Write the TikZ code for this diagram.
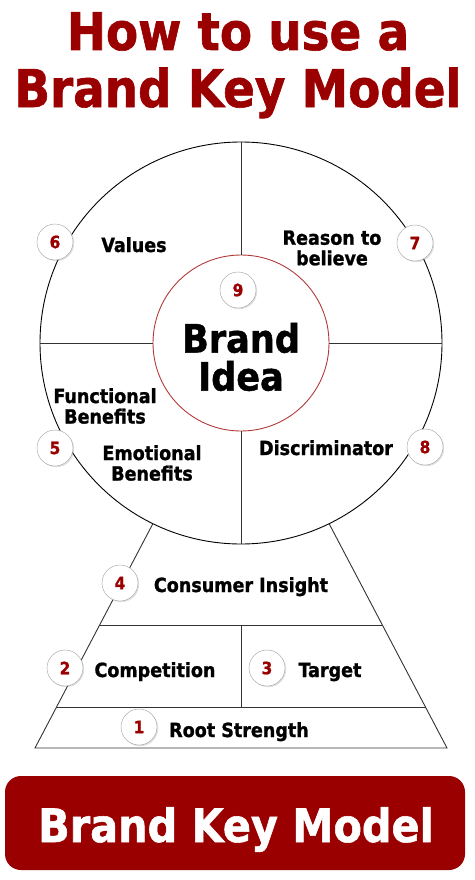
\documentclass[tikz,border=0pt]{standalone}
\usepackage{fontspec}
\setmainfont{DejaVu Sans Condensed}[BoldFeatures={FakeBold=1.2}]
\usetikzlibrary{calc, shadows}
\definecolor{brandred}{HTML}{9B0000}
\definecolor{ringred}{HTML}{B23A3A}

\begin{document}
\begin{tikzpicture}[
		x=1pt, y=-1pt,
		every node/.style={inner sep=0pt, font=\bfseries},
		headline/.style={anchor=base, text=brandred, font=\fontsize{52}{52}\selectfont\bfseries},
		field/.style={align=center, font=\fontsize{19.5}{20.5}\selectfont\bfseries},
		badge/.style={circle, draw=gray!75, fill=white, minimum size=36pt, text=brandred,
			font=\fontsize{17}{17}\selectfont\bfseries,
			drop shadow={opacity=0.25, shadow xshift=1.2pt, shadow yshift=-1.2pt}},
		divider/.style={draw=black!80, line width=0.9pt}
		]
	
		\useasboundingbox (0,0) rectangle (474,880);
	
		% Heading
		\node[headline] (headone) at (238,50) {How to use a};
		\node[headline] (headtwo) at (238,107) {Brand Key Model};
	
		% Wheel
		\node[circle, draw, line width=0.9pt, minimum size=402pt] (wheel) at (241,343) {};
		\node[circle, draw=ringred, line width=0.9pt, minimum size=176pt] (ideanode) at (wheel.center) {};
		\node[align=center, font=\fontsize{39}{38}\selectfont\bfseries] (ideatext) at (241,357) {Brand\\Idea};
		\draw[divider] (wheel.north) -- (ideanode.north);
		\draw[divider] (wheel.south) -- (ideanode.south);
		\draw[divider] (wheel.west) -- (ideanode.west);
		\draw[divider] (wheel.east) -- (ideanode.east);
	
		% Pyramid
		\coordinate (baseleft) at (35,748);
		\coordinate (baseright) at (447,748);
		\coordinate (tierAl) at ($(wheel.-116)!0.451!(baseleft)$);
		\coordinate (tierAr) at ($(wheel.-64)!0.451!(baseright)$);
		\coordinate (tierBl) at ($(wheel.-116)!0.821!(baseleft)$);
		\coordinate (tierBr) at ($(wheel.-64)!0.821!(baseright)$);
		\draw[divider] (wheel.-116) -- (baseleft) -- (baseright) -- (wheel.-64);
		\draw[divider] (tierAl) -- (tierAr);
		\draw[divider] (tierBl) -- (tierBr);
		\draw[divider] ($(tierAl)!0.5!(tierAr)$) -- ($(tierBl)!0.5!(tierBr)$);
	
		% Texts
		\node[field, anchor=base] (values) at (134,252) {Values};
		\node[field] (reason) at (332,248) {Reason to\\believe};
		\node[field] (functional) at (105,406) {Functional\\Benefits};
		\node[field] (emotional) at (152,463) {Emotional\\Benefits};
		\node[field, anchor=base] (discriminator) at (326,455) {Discriminator};
		\node[field, anchor=base] (insight) at (241,592) {Consumer Insight};
		\node[field, anchor=base] (competition) at (155,677) {Competition};
		\node[field, anchor=base] (target) at (330,677) {Target};
		\node[field, anchor=base] (root) at (239,737) {Root Strength};
	
		% Numbers
		\node[badge] (one) at (139,727) {1};
		\node[badge] (two) at (65,668) {2};
		\node[badge] (three) at (267,668) {3};
		\node[badge] (four) at (120,583) {4};
		\node[badge] (five) at (55,448) {5};
		\node[badge] (six) at (55,242) {6};
		\node[badge] (seven) at (415,243) {7};
		\node[badge] (eight) at (425,447) {8};
		\node[badge] (nine) at (238,290) {9};
	
		% Banner
		\fill[brandred, rounded corners=16pt] (5,776) rectangle (465,870);
		\node[anchor=base, text=white, font=\fontsize{46}{46}\selectfont\bfseries] (banner) at (236,842) {Brand Key Model};
	
	\end{tikzpicture}
\end{document}
